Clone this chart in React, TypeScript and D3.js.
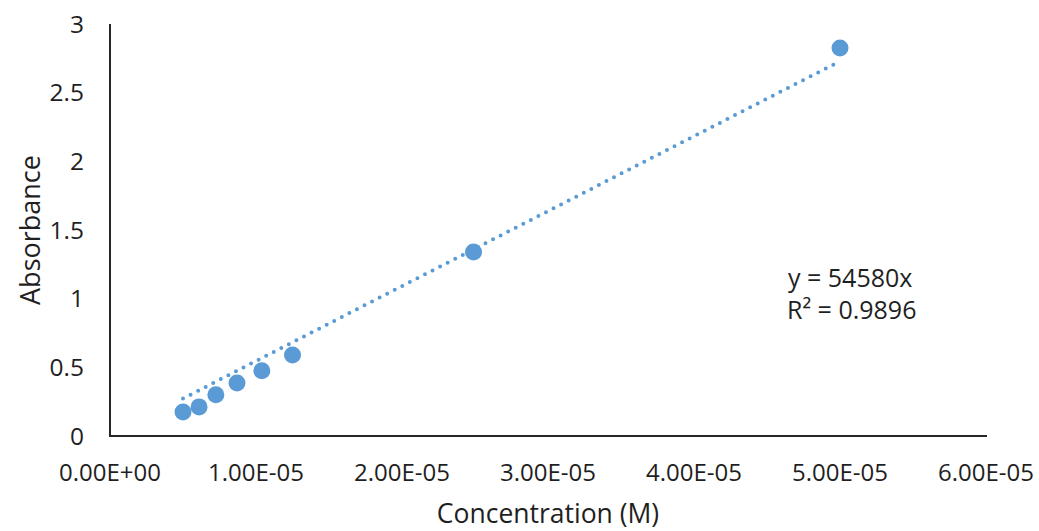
import React from "react";
import * as d3 from "d3";

const concentration = [5.0e-6, 6.1e-6, 7.25e-6, 8.7e-6, 1.04e-5, 1.25e-5, 2.49e-5, 5.0e-5];
const absorbance = [0.175, 0.212, 0.3, 0.386, 0.475, 0.59, 1.34, 2.826];
const xTicks = [0, 1e-5, 2e-5, 3e-5, 4e-5, 5e-5, 6e-5];
const yTicks = [0, 0.5, 1, 1.5, 2, 2.5, 3];
const slope = 54580;
const rSquared = "0.9896";

const W = 1039;
const H = 531;
const font = "'Open Sans', 'Noto Sans', sans-serif";
const blue = "#5B9BD5";
const ink = "#1f1f1f";

const App = () => {
  const x = d3.scaleLinear().domain([0, 6e-5]).range([110, 986]);
  const y = d3.scaleLinear().domain([0, 3]).range([436, 24]);

  const points = concentration.map((c, i) => ({ c, a: absorbance[i] }));
  const xMin = d3.min(concentration) as number;
  const xMax = d3.max(concentration) as number;
  const trend = d3
    .line<number>()
    .x((d) => x(d))
    .y((d) => y(slope * d))([xMin, xMax]);

  const fmt = (v: number) => v.toExponential(2).toUpperCase().replace(/E([+-])(\d)$/, "E$10$2");

  return (
    <svg width={W} height={H} style={{ position: "absolute", left: 0, top: 0, background: "#fff" }}>
      <rect width={W} height={H} fill="#fff" />
      {/* axes */}
      <line x1={x(0)} x2={x(0)} y1={y(3)} y2={y(0)} stroke="#262626" strokeWidth={2} />
      <line x1={x(0) - 1} x2={x(6e-5) + 1} y1={y(0)} y2={y(0)} stroke="#262626" strokeWidth={2} />

      {yTicks.map((t) => (
        <text key={t} x={84} y={y(t)} dy="0.36em" textAnchor="end" fontFamily={font} fontSize={24.5} fill={ink}>
          {t}
        </text>
      ))}
      {xTicks.map((t) => (
        <text key={t} x={x(t)} y={481} textAnchor="middle" fontFamily={font} fontSize={24} fill={ink}>
          {fmt(t)}
        </text>
      ))}

      <text x={548} y={523} textAnchor="middle" fontFamily={font} fontSize={26.5} fill={ink}>
        Concentration (M)
      </text>
      <text
        transform={`translate(40,${y(1.5)}) rotate(-90)`}
        textAnchor="middle"
        fontFamily={font}
        fontSize={27}
        fill={ink}
      >
        Absorbance
      </text>

      {/* trendline */}
      <path d={trend ?? ""} fill="none" stroke={blue} strokeWidth={4} strokeLinecap="round" strokeDasharray="0 8.5" />

      {points.map((p, i) => (
        <circle key={i} cx={x(p.c)} cy={y(p.a)} r={8.5} fill={blue} />
      ))}

      <text x={788} y={287} fontFamily={font} fontSize={25} fill={ink}>
        y = {slope}x
      </text>
      <text x={787} y={319} fontFamily={font} fontSize={25} fill={ink}>
        R² = {rSquared}
      </text>
    </svg>
  );
};

export default App;
